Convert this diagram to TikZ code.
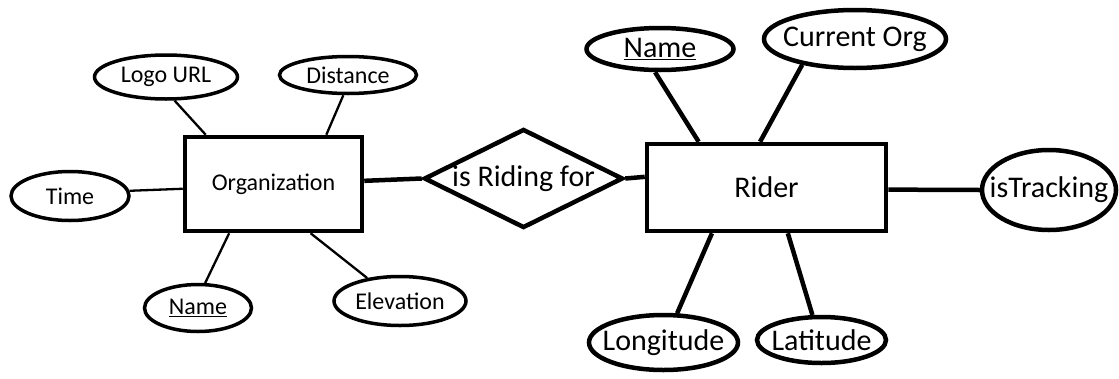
\documentclass[tikz,border=0pt]{standalone}
\usepackage{fontspec}
\setmainfont{Carlito}
\usetikzlibrary{shapes.geometric}

\tikzset{
  flat/.style={execute at begin node={\hbox to 0pt\bgroup\hss}, execute at end node={\hss\egroup}},
  entity/.style={draw,rectangle,inner sep=0pt,line width=4.5pt,font=\fontsize{#1}{#1}\selectfont},
  attrib/.style={draw,ellipse,flat,inner sep=0pt,font=\fontsize{#1}{#1}\selectfont},
  relation/.style={draw,diamond,flat,aspect=2,inner sep=0pt,line width=4.5pt,font=\fontsize{30}{30}\selectfont},
  thinlink/.style={line width=2.3pt},
  thicklink/.style={line width=4.5pt}
}

\begin{document}
\begin{tikzpicture}[x=1pt,y=-1pt]
  \useasboundingbox (0,0) rectangle (1119,378);
  %left
  \node[entity=24,minimum width=177pt,minimum height=94pt] (org) at (273.5,184) {Organization};
  \node[attrib=24,line width=3.5pt,minimum width=143pt,minimum height=44pt] (logo) at (166,77) {Logo URL};
  \node[attrib=24,line width=3.5pt,minimum width=137pt,minimum height=37pt] (dist) at (348,75) {Distance};
  \node[attrib=24,line width=3.5pt,minimum width=118pt,minimum height=49pt] (time) at (70,196) {Time};
  \node[attrib=24,line width=3.5pt,minimum width=107pt,minimum height=47pt] (oname) at (198,308) {\underline{Name}};
  \node[attrib=24,line width=3.5pt,minimum width=132pt,minimum height=49pt] (elev) at (400,301) {Elevation};
  \draw[thinlink] (logo.-70) -- (org.144.5);
  \draw[thinlink] (dist.-103.5) -- (org.43);
  \draw[thinlink] (time.5.7) -- (org.183.8);
  \draw[thinlink] (oname.74) -- (org.228.3);
  \draw[thinlink] (elev.145) -- (org.-53);

  %relationship
  \node[relation,minimum width=199pt,minimum height=99pt] (rides) at (523.5,178.5) {is Riding for};
  \draw[thicklink] (org.2.5) -- (rides.west);

  %right
  \node[entity=30,minimum width=239pt,minimum height=87pt] (rider) at (766.5,187.5) {Rider};
  \node[attrib=30,line width=4.5pt,minimum width=147pt,minimum height=42pt] (rname) at (660,49) {\underline{Name}};
  \node[attrib=30,line width=4.5pt,minimum width=182pt,minimum height=58pt] (curorg) at (855,39) {Current Org};
  \node[attrib=30,line width=4.5pt,minimum width=134pt,minimum height=80pt] (track) at (1049,190) {isTracking};
  \node[attrib=30,line width=4.5pt,minimum width=149pt,minimum height=55pt] (lon) at (663.5,342.5) {Longitude};
  \node[attrib=30,line width=4.5pt,minimum width=129pt,minimum height=46pt] (lat) at (821.5,340) {Latitude};
  \draw[thicklink] (rides.east) -- (rider.175);
  \draw[thicklink] (rname.-102) -- (rider.146.4);
  \draw[thicklink] (curorg.-154) -- (rider.98);
  \draw[thicklink] (rider.-1.2) -- (track.west);
  \draw[thicklink] (lon.65.4) -- (rider.220.4);
  \draw[thicklink] (lat.110.8) -- (rider.-65.7);
\end{tikzpicture}
\end{document}
